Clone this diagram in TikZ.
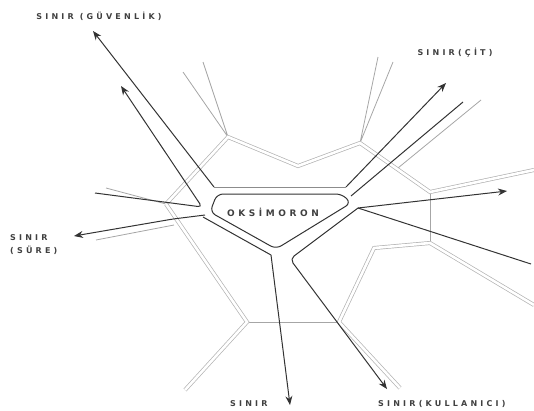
\documentclass[tikz,border=0pt]{standalone}
\usepackage{fontspec}
\newfontfamily\lblfont{DejaVu Sans}[LetterSpace=40]
\usetikzlibrary{arrows.meta, positioning}

\begin{document}
\begin{tikzpicture}[x=1pt, y=-1pt,
    arr/.style={-{Stealth[length=9pt, width=7pt]}, black!80, line width=1pt},
    darkline/.style={black!80, line width=1pt},
    road/.style={draw=black!30, double=white, double distance=2.6pt, line width=0.7pt},
    wire/.style={black!35, line width=0.8pt},
    lbl/.style={font=\lblfont\bfseries\fontsize{8}{10}\selectfont, text=black!75, inner sep=0pt}]
    \useasboundingbox (0,0) rectangle (534,410);

    % gray network
    \coordinate (J1) at (228,137);
    \coordinate (T) at (298,166);
    \coordinate (J7) at (360,143);
    \coordinate (J6) at (430,192);
    \coordinate (J5) at (430,243);
    \coordinate (J4) at (339,322);
    \coordinate (J3) at (247,322);
    \coordinate (J2) at (166,204);
    \draw[wire] (183,72) -- (J1) -- (203,62);
    \draw[wire] (378,57) -- (J7) -- (393,62);
    \draw[wire] (398,168) -- (481,100);
    \draw[wire] (J2) -- (106,188);
    \draw[wire] (174,225) -- (96,240);
    \draw[wire] (J3) -- (J4);
    \draw[wire] (J6) -- (J5);
    \draw[road] (J2) -- (J1) -- (T) -- (J7) -- (J6) -- (534,170);
    \draw[road] (534,305) -- (J5) -- (374,248) -- (J4) -- (400,388);
    \draw[road] (J2) -- (J3) -- (185,390);

    % centre
    \draw[darkline, rounded corners=6pt] (217,194) -- (342,194) -- (351,203) -- (276,249) -- (210,212) -- cycle;
    \node[lbl, font=\lblfont\bfseries\fontsize{9}{10}\selectfont] (oks) at (273,212) {OKSİMORON};

    % labels
    \node[lbl] (guv) at (99,16) {SINIR (GÜVENLİK)};
    \node[lbl] (cit) at (455,53) {SINIR(ÇİT)};
    \node[lbl, anchor=west, align=left] (sure) at (10,245) {SINIR\\[3pt](SÜRE)};
    \node[lbl, anchor=north west] (bot) at (230,400) {SINIR};
    \node[lbl, anchor=north west] (kul) at (378,400) {SINIR(KULLANICI)};

    % arrows
    \coordinate (hTL) at (214,187);
    \coordinate (hTR) at (346,187);
    \coordinate (hR) at (358,208);
    \coordinate (hL) at (202,207);
    \coordinate (hB) at (271,255);
    \coordinate (guvtip) at (93,31);
    \coordinate (uptip) at (121,86);
    \coordinate (cittip) at (446,83);
    \coordinate (rtip) at (507,191);
    \coordinate (suretip) at (74,236);
    \coordinate (bottip) at (290,405);
    \coordinate (kultip) at (387,389);
    \draw[black!45, line width=1pt] (hTL) -- (hTR);
    \draw[arr] (hTL) -- (guvtip);
    \draw[arr, rounded corners=4pt] (95,193) -- (hL) -- (uptip);
    \draw[arr] (hTR) -- (cittip);
    \draw[darkline] (351,196) -- (463,102);
    \draw[arr] (hR) -- (rtip);
    \draw[darkline] (hR) -- (531,264);
    \draw[arr, rounded corners=5pt] (hR) -- (290,259) -- (kultip);
    \draw[darkline] (203,217) -- (hB);
    \draw[arr] (hB) -- (bottip);
    \draw[arr, rounded corners=4pt] (205,215) -- (173,219) -- (suretip);
\end{tikzpicture}
\end{document}
